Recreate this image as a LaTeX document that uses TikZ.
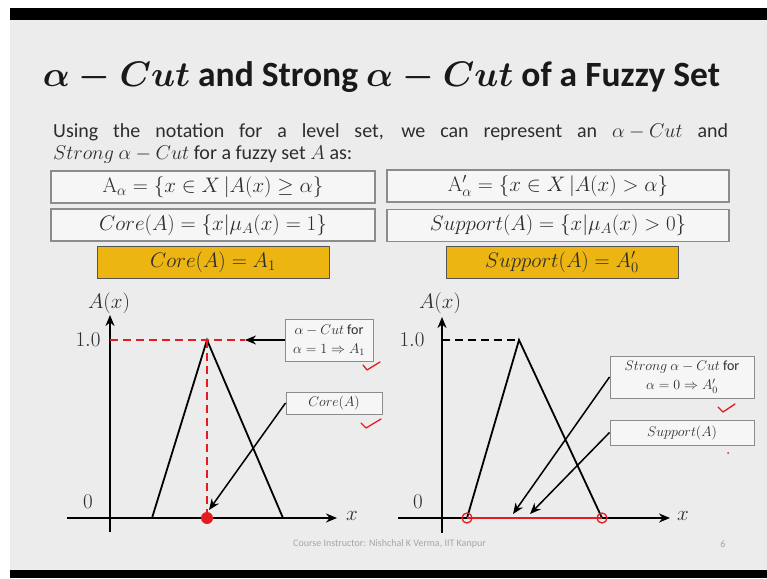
\RequirePackage{fix-cm}
\documentclass[tikz,border=0pt]{standalone}
\usepackage[no-math]{fontspec}
\setmainfont{Carlito}
\usepackage{amsmath}
\usepackage{amssymb}
\usepackage{xcolor}
\usepackage{tikz}
\usetikzlibrary{positioning, arrows.meta}
\definecolor{slidebg}{RGB}{236,236,236}
\definecolor{boxline}{RGB}{140,140,140}
\definecolor{boxfill}{RGB}{246,246,246}
\definecolor{gold}{RGB}{236,181,18}
\definecolor{inkred}{RGB}{228,28,34}
\definecolor{txt}{RGB}{45,45,45}
\definecolor{foot}{RGB}{165,165,165}
\tikzset{
  formula/.style={draw=boxline, fill=boxfill, line width=1.2pt, minimum height=32pt, text=txt, font=\fontsize{21}{24}\selectfont, inner sep=0pt},
  goldbox/.style={draw=boxline!60!black, fill=gold, line width=1pt, minimum height=32pt, minimum width=232pt, text=txt, font=\fontsize{21}{24}\selectfont, inner sep=0pt},
  callout/.style={draw=boxline, fill=boxfill, line width=1pt, text=txt, font=\fontsize{14}{19}\selectfont, align=center, inner sep=0pt},
  axis/.style={line width=1.8pt, -{Stealth[length=11pt, width=9pt]}},
  memb/.style={line width=1.8pt},
  pointer/.style={line width=1.5pt, -{Stealth[length=11pt, width=9pt]}},
  check/.style={inkred, line width=1.3pt, line cap=round, line join=round},
  lbl/.style={font=\fontsize{21}{23}\selectfont, text=txt, inner sep=0pt}
}
\begin{document}
\begin{tikzpicture}[x=1pt, y=-1pt]
\useasboundingbox (0,0) rectangle (767,578);
% slide frame
\fill[white] (0,0) rectangle (767,578);
\fill[slidebg] (10,20) rectangle (767,570);
\fill[black] (10,8) rectangle (767,20);
\fill[black] (10,570) rectangle (767,578);
% title and text
\node[anchor=base, font=\fontsize{35.5}{42}\selectfont\bfseries\boldmath, text=black!90] (title) at (381.5,86)
  {$\alpha - Cut$ and Strong $\alpha - Cut$ of a Fuzzy Set};
\node[anchor=base west, text width=675pt, align=justify, inner sep=0pt, font=\fontsize{20}{22}\selectfont, text=txt] (intro) at (53,137)
  {Using the notation for a level set, we can represent an ${\alpha - Cut}$ and\linebreak ${Strong\ \alpha - Cut}$ for a fuzzy set $A$ as:};
% definition boxes
\node[formula, minimum width=324pt] (cut) at (213,187) {$\mathrm{A}_\alpha = \{x \in X\,|A(x) \geq \alpha\}$};
\node[formula, minimum width=342pt] (scut) at (558,186) {$\mathrm{A}'_\alpha = \{x \in X\,|A(x) > \alpha\}$};
\node[formula, minimum width=324pt] (core) at (213,225) {$Core(A) = \{x|\mu_A(x) = 1\}$};
\node[formula, minimum width=342pt] (supp) at (558,225.5) {$Support(A) = \{x|\mu_A(x) > 0\}$};
\node[goldbox] (coreeq) at (213,262) {$Core(A) = A_1$};
\node[goldbox] (suppeq) at (562,262) {$Support(A) = A'_0$};
% Left: alpha-cut at 1
\coordinate (o1) at (110,518);
\coordinate (la) at (152,518);
\coordinate (lp) at (207,340);
\coordinate (lb) at (283,518);
\coordinate (lc) at (207,518);
\coordinate (lh) at (245,340);
\draw[axis] (110,532) -- (110,315);
\draw[axis] (67,518) -- (337,518);
\node[lbl] (ax1) at (109,303) {$A(x)$};
\node[lbl] (one1) at (88,340) {$1.0$};
\node[lbl] (zero1) at (88,502) {$0$};
\node[lbl] (x1) at (352,516) {$x$};
\draw[memb] (la) -- (lp) -- (lb);
\draw[inkred, line width=1.8pt, dash pattern=on 8pt off 5pt] (110,340) -- (lh);
\draw[inkred, line width=1.8pt, dash pattern=on 8pt off 5pt] (lp) -- (lc);
\fill[inkred] (lc) circle (6);
\node[callout, minimum width=88pt, minimum height=42pt] (cutbox) at (329,340)
  {$\alpha - Cut$ for\\ $\alpha = 1 \Rightarrow A_1$};
\node[callout, minimum width=96pt, minimum height=22pt] (corebox) at (334,403) {$Core(A)$};
\draw[pointer] (cutbox.west) -- (lh);
\draw[pointer] (corebox.west) -- (209,510);
\draw[check] (363,365) -- (367,370) -- (380,362);
\draw[check] (361,423) -- (366,428) -- (381,419);
% Right: strong alpha-cut at 0
\coordinate (o2) at (442,518);
\coordinate (ra) at (467,518);
\coordinate (rp) at (519,340);
\coordinate (rb) at (602,518);
\draw[axis] (442,533) -- (442,317);
\draw[axis] (398,518) -- (670,518);
\node[lbl] (ax2) at (440,303) {$A(x)$};
\node[lbl] (one2) at (412,340) {$1.0$};
\node[lbl] (zero2) at (418,502) {$0$};
\node[lbl] (x2) at (683,516) {$x$};
\draw[line width=1.6pt, dash pattern=on 8pt off 5pt] (442,340) -- (rp);
\draw[memb] (ra) -- (rp) -- (rb);
\draw[inkred, line width=2.2pt] (ra) -- (rb);
\draw[inkred, line width=1.3pt] (ra) circle (5);
\draw[inkred, line width=1.3pt] (rb) circle (5);
\node[callout, minimum width=144pt, minimum height=42pt] (scutbox) at (682,377)
  {$Strong\ \alpha - Cut$ for\\ $\alpha = 0 \Rightarrow A'_0$};
\node[callout, minimum width=144pt, minimum height=25pt] (suppbox) at (682,432.5) {$Support(A)$};
\draw[pointer] (scutbox.west) -- (513,514);
\draw[pointer] (suppbox.west) -- (530,514);
\draw[check] (718,407) -- (723,412) -- (735,404);
\fill[inkred] (728,453) circle (1);
% footer
\node[font=\fontsize{10}{12}\selectfont, text=foot] (credit) at (389.5,544) {Course Instructor: Nishchal K Verma, IIT Kanpur};
\node[font=\fontsize{10}{12}\selectfont, text=foot] (page) at (723,544) {6};
\end{tikzpicture}
\end{document}
